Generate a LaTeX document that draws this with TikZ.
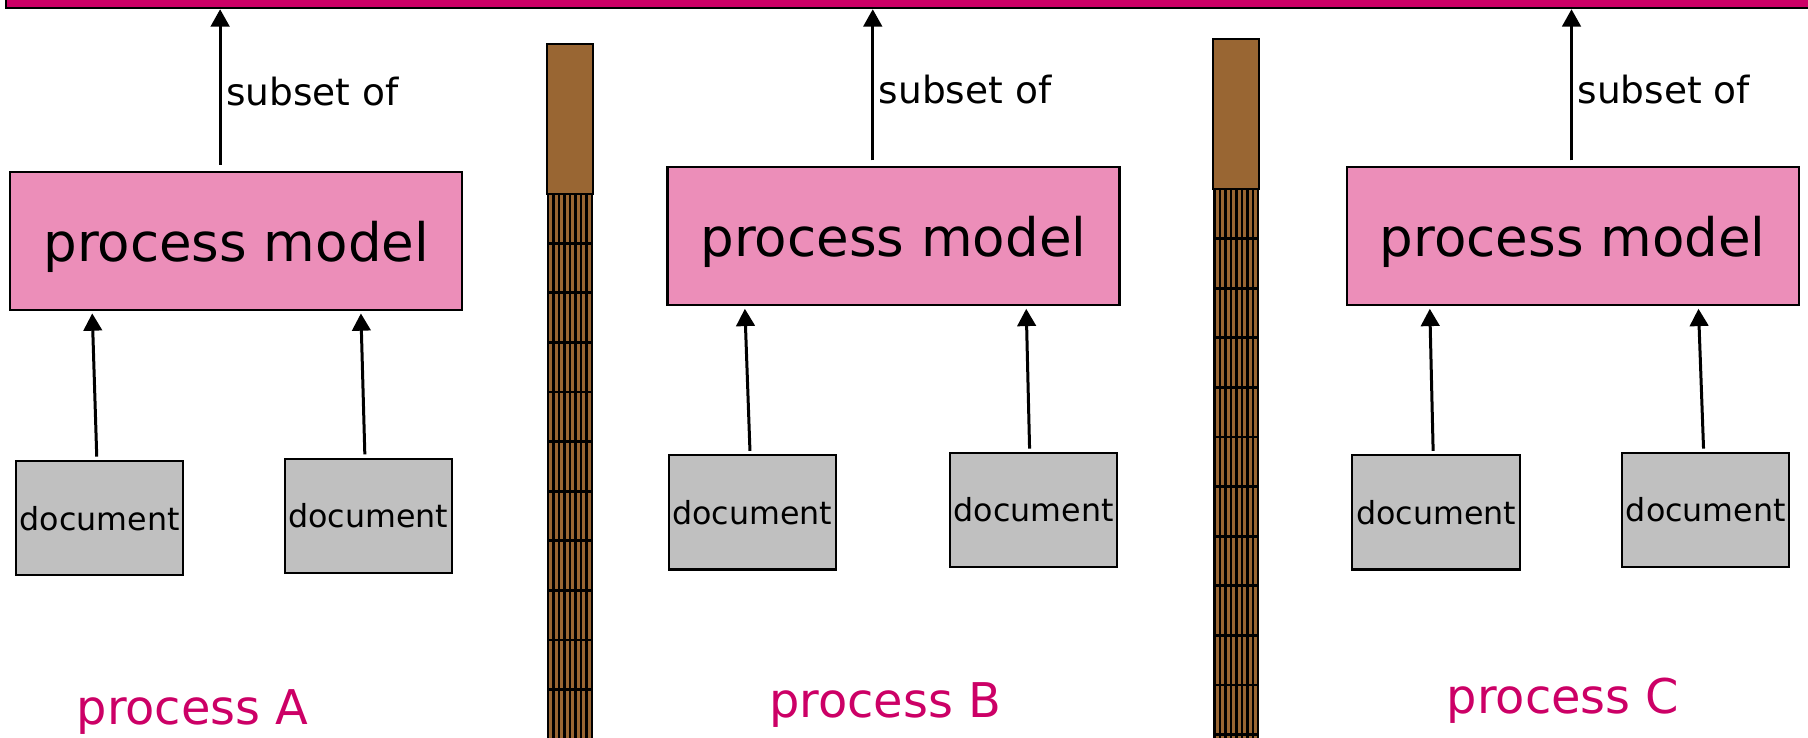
\documentclass[tikz,border=0pt]{standalone}
\usepackage{fontspec}
\setmainfont{DejaVu Sans}
\usetikzlibrary{arrows.meta,calc}
\definecolor{mag}{HTML}{CC0066}
\definecolor{pinkbox}{HTML}{EC8EB9}
\definecolor{docgray}{HTML}{C0C0C0}
\definecolor{brownc}{HTML}{996633}
\begin{document}
\begin{tikzpicture}[x=1pt,y=-1pt,
 pm/.style={draw=black,line width=1.8pt,fill=pinkbox,minimum width=392pt,minimum height=120pt,inner sep=0pt,text depth=0pt,font=\fontsize{46}{50}\selectfont,anchor=north west},
 doc/.style={draw=black,line width=1.8pt,fill=docgray,minimum width=145pt,minimum height=99pt,inner sep=0pt,font=\fontsize{27.5}{30}\selectfont,anchor=north west},
 arr/.style={line width=2.6pt,-{Triangle[length=15pt,width=16pt]}},
 sublbl/.style={font=\fontsize{32.5}{36}\selectfont,right,inner sep=4pt},
 plbl/.style={text=mag,font=\fontsize{41.5}{45}\selectfont,anchor=base,inner sep=0pt},
 post/.style={draw=black,line width=1.8pt,fill=brownc},
]
\useasboundingbox (0,0) rectangle (1568,640);
\clip (0,0) rectangle (1568,640);
% top bar
\node[draw=black,line width=1.8pt,fill=mag,minimum width=1700pt,minimum height=40pt,inner sep=0pt,anchor=south west] (bar) at (4,8) {};
% fences
\foreach \fx/\ftop in {474/38, 1052/34}{
  \foreach \i in {0,...,11}{
    \pgfmathsetmacro\sy{\ftop+130+43*\i}
    \fill[black] (\fx,\sy) rectangle (\fx+40,\sy+43);
    \foreach \k in {0,...,7}{
      \fill[brownc] (\fx+2.4+4.75*\k,\sy+1.2) rectangle (\fx+5.1+4.75*\k,\sy+41.8);
    }
  }
  \draw[post] (\fx,\ftop) rectangle (\fx+40,\ftop+130);
}
% process models
\node[pm] (pmA) at (8,148) {process model};
\node[pm] (pmB) at (578,144) {process model};
\node[pm] (pmC) at (1167,144) {process model};
% documents
\node[doc] (dA1) at (13,399) {document};
\node[doc] (dA2) at (246,397) {document};
\node[doc] (dB1) at (579,394) {document};
\node[doc] (dB2) at (823,392) {document};
\node[doc] (dC1) at (1172,394) {document};
\node[doc] (dC2) at (1406,392) {document};
% subset arrows
\coordinate (sA) at ($(pmA.north)+(-14,-5)$);
\coordinate (sB) at ($(pmB.north)+(-18,-5)$);
\coordinate (sC) at ($(pmC.north)+(-1,-5)$);
\draw[arr] (sA) -- node[sublbl,pos=0.47]{subset of} (sA |- bar.south);
\draw[arr] (sB) -- node[sublbl,pos=0.47]{subset of} (sB |- bar.south);
\draw[arr] (sC) -- node[sublbl,pos=0.47]{subset of} (sC |- bar.south);
% document arrows
\draw[arr] ($(dA1.north)+(-2.5,-3)$) -- ($(pmA.south west)+(72,2)$);
\draw[arr] ($(dA2.north)+(-3,-3)$) -- ($(pmA.south west)+(305,2)$);
\draw[arr] ($(dB1.north)+(-2,-3)$) -- ($(pmB.south west)+(68,2)$);
\draw[arr] ($(dB2.north)+(-3.5,-3)$) -- ($(pmB.south west)+(312,2)$);
\draw[arr] ($(dC1.north)+(-2.5,-3)$) -- ($(pmC.south west)+(73,2)$);
\draw[arr] ($(dC2.north)+(-2,-3)$) -- ($(pmC.south west)+(306,2)$);
% process labels
\node[plbl] (lA) at (167,628) {process A};
\node[plbl] (lB) at (767.5,622) {process B};
\node[plbl] (lC) at (1355.5,619) {process C};
\end{tikzpicture}
\end{document}
